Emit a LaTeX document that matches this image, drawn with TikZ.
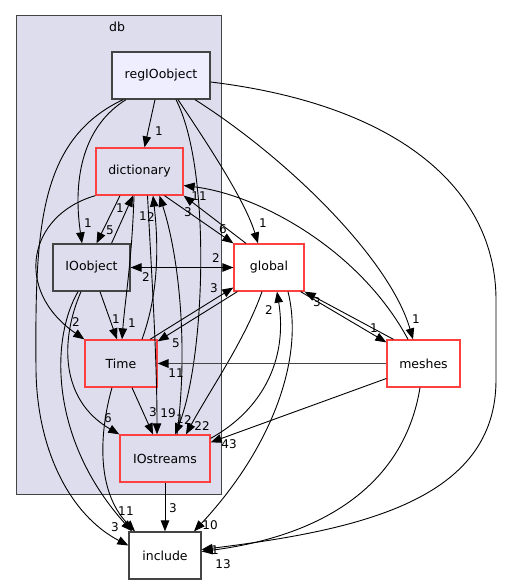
\documentclass[tikz,border=0pt]{standalone}
\usepackage{fontspec}
\setmainfont{DejaVu Sans}
\usepackage{xcolor}
\usepackage{tikz}
\usetikzlibrary{shapes,arrows,arrows.meta,positioning,calc,fit}
\definecolor{dbfill}{HTML}{DDDDEE}
\definecolor{dbline}{HTML}{444444}
\definecolor{regfill}{HTML}{EEEEFF}
\definecolor{dirred}{HTML}{FF4040}

\begin{document}
\begin{tikzpicture}[
    x=1pt, y=-1pt,
    cluster/.style={rectangle, draw=dbline, fill=dbfill, line width=1pt},
    dir/.style={rectangle, draw=dbline, line width=1.3pt, minimum height=47pt, inner sep=0pt, font=\fontsize{12.5}{14}\selectfont},
    subdir/.style={dir, draw=dirred},
    dep/.style={-{Triangle[length=11pt,width=8.5pt,color=black]}, line width=0.9pt},
    num/.style={inner sep=0pt, font=\fontsize{12}{14}\selectfont}
]
    \useasboundingbox (0,0) rectangle (504,585);
    \node[cluster, minimum width=205pt, minimum height=478pt] (db) at (118.5,255) {};
    \node[num, font=\fontsize{12.5}{14}\selectfont] (dbname) at (117,27) {db};

    \node[dir, fill=regfill, minimum width=98pt] (reg) at (161,75.5) {regIOobject};
    \node[subdir, fill=dbfill, minimum width=87pt] (dict) at (139.5,171.5) {dictionary};
    \node[dir, fill=dbfill, minimum width=77pt] (ioobj) at (91.5,267.5) {IOobject};
    \node[subdir, fill=dbfill, minimum width=72pt] (time) at (121,363.5) {Time};
    \node[subdir, fill=dbfill, minimum width=90pt] (iostr) at (165,458.5) {IOstreams};
    \node[subdir, fill=white, minimum width=70pt] (global) at (269,267.5) {global};
    \node[subdir, fill=white, minimum width=73pt] (meshes) at (423.5,363.5) {meshes};
    \node[dir, fill=white, minimum width=72pt] (include) at (165,555.5) {include};

    \draw[dep] ([xshift=-6pt]reg.south) -- ([xshift=5pt]dict.north) node[num] at (159,131) {1};
    \draw[dep] ([xshift=-35pt]reg.south) .. controls (85,125) and (72,175) .. ([xshift=-9.5pt]ioobj.north) node[num] at (88,223) {1};
    \draw[dep] ([xshift=-38pt]reg.south) .. controls (38,140) and (35,230) .. (36,370) .. controls (37,450) and (70,515) .. ([yshift=10pt]include.west) node[num] at (115,527) {3};
    \draw[dep] ([xshift=17pt]reg.south) .. controls (205,140) and (245,200) .. ([xshift=-11pt]global.north) node[num] at (263,223) {1};
    \draw[dep] ([xshift=34pt]reg.south) .. controls (290,160) and (390,260) .. ([xshift=-10.5pt]meshes.north) node[num] at (416,319) {1};
    \draw[dep] ([yshift=-6.5pt]reg.east) .. controls (400,105) and (496,190) .. (496,300) -- (496,380) .. controls (496,500) and (360,530) .. ([yshift=6pt]include.east) node[num] at (215,550) {1};
    \draw[dep] ([xshift=15pt]reg.south) .. controls (212,170) and (205,360) .. ([xshift=10pt]iostr.north) node[num] at (180,419) {1} node[num] at (188,420) {2};

    \draw[dep] ([xshift=-19.5pt]dict.south) -- ([xshift=5pt]ioobj.north) node[num] at (110,230) {5};
    \draw[dep] ([xshift=20pt]ioobj.north) -- ([xshift=-6.5pt]dict.south) node[num] at (120,208) {1};
    \draw[dep] (dict.south west) .. controls (28,215) and (13,290) .. (time.north west) node[num] at (76,322) {2};
    \draw[dep] ([xshift=-5.5pt]dict.south) .. controls (132,260) and (125,300) .. ([xshift=1pt]time.north) node[num] at (132,323) {1};
    \draw[dep] ([xshift=8.5pt]ioobj.south) -- ([xshift=-4pt]time.north) node[num] at (116,319) {1};
    \draw[dep] ([xshift=21pt]time.north) .. controls (160,290) and (158,240) .. ([xshift=13.5pt]dict.south) node[num] at (151,217) {2};
    \draw[dep] ([xshift=8pt]dict.south) .. controls (152,280) and (157,360) .. ([xshift=-8pt]iostr.north) node[num] at (168,413) {19};
    \draw[dep] ([xshift=12pt]iostr.north) .. controls (188,350) and (180,260) .. ([xshift=20pt]dict.south) node[num] at (143,216) {1};
    \draw[dep] ([xshift=11pt]time.south) -- ([xshift=-12pt]iostr.north) node[num] at (153,412) {3};
    \draw[dep] ([xshift=-9pt]time.south) .. controls (100,430) and (95,490) .. ([xshift=-30pt]include.north) node[num] at (130,511) {1};
    \draw[dep] ([xshift=-13.5pt]ioobj.south) .. controls (50,340) and (50,440) .. ([xshift=-33pt]include.north) node[num] at (122,511) {1};
    \draw[dep] ([xshift=-10.5pt]ioobj.south) .. controls (60,340) and (60,400) .. (iostr.north west) node[num] at (108,418) {6};
    \draw[dep] (iostr) -- (include) node[num] at (173,508) {3};

    \draw[dep] ([xshift=4pt]global.south west) -- ([yshift=-2pt]time.north east) node[num] at (176,343) {5};
    \draw[dep] ([xshift=29pt]time.north) -- ([yshift=-20pt]global.west) node[num] at (214,288) {3};
    \draw[dep] (ioobj) -- (global) node[num] at (216,258) {2};
    \draw[dep] (global) -- (ioobj) node[num] at (146,277) {2};
    \draw[dep] ([xshift=25pt]dict.south) -- (global.north west) node[num] at (223,229) {6};
    \draw[dep] ([xshift=-23pt]global.north) -- (dict.south east) node[num] at (188,212) {3};
    \draw[dep] ([xshift=-7pt]global.south) .. controls (245,340) and (210,390) .. ([xshift=21pt]iostr.north) node[num] at (202,426) {22};
    \draw[dep] ([yshift=-4pt]iostr.north east) .. controls (262,410) and (288,360) .. ([xshift=8pt]global.south) node[num] at (269,310) {2};
    \draw[dep] ([xshift=19pt]global.south) .. controls (305,360) and (270,450) .. ([xshift=29pt]include.north) node[num] at (210,525) {10};

    \draw[dep] ([xshift=-15.5pt]meshes.north) .. controls (360,250) and (260,195) .. ([yshift=-14pt]dict.east) node[num] at (199,196) {11};
    \draw[dep] ([xshift=-30pt]meshes.north) -- (global.south east) node[num] at (317,302) {3};
    \draw[dep] ([xshift=-4pt]global.south east) -- ([yshift=-3pt]meshes.north west) node[num] at (374,328) {1};
    \draw[dep, draw=dbline, line width=1.8pt] (meshes) -- (time) node[num] at (176,373) {11};
    \draw[dep] ([yshift=-15pt]meshes.west) -- ([yshift=-8pt]iostr.north east) node[num] at (229,444) {43};
    \draw[dep] ([xshift=-3.5pt]meshes.south) .. controls (405,480) and (330,535) .. ([yshift=4pt]include.east) node[num] at (223,564) {13};
\end{tikzpicture}
\end{document}
